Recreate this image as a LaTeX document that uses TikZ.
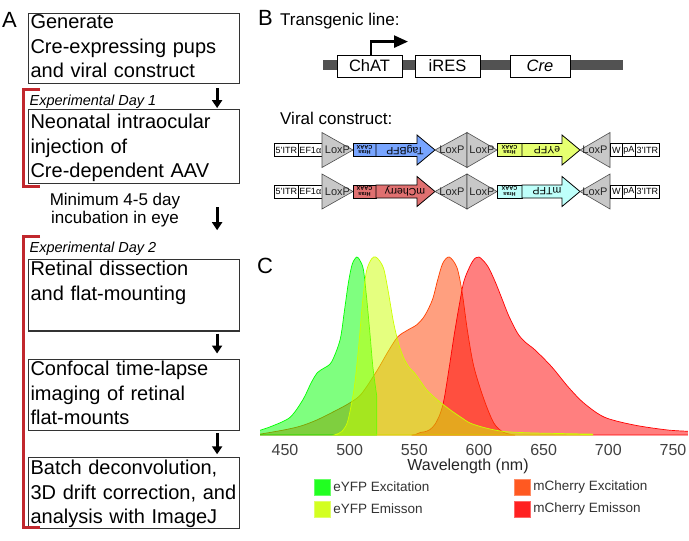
\documentclass[tikz,border=0pt]{standalone}
\usepackage{fontspec}
\setmainfont{Liberation Sans}
\usepackage{tikz}
\usetikzlibrary{arrows.meta,positioning}

\definecolor{brred}{RGB}{193,39,45}
\definecolor{tagblue}{RGB}{120,165,255}
\definecolor{eyfpyel}{RGB}{230,255,112}
\definecolor{chred}{RGB}{224,112,112}
\definecolor{mtfpcyan}{RGB}{190,255,250}
\definecolor{loxgray}{RGB}{200,200,200}
\definecolor{specgreen}{RGB}{0,255,0}
\definecolor{specyellow}{RGB}{204,255,0}
\definecolor{specorange}{RGB}{255,64,0}
\definecolor{specred}{RGB}{255,0,0}

\begin{document}
\begin{tikzpicture}[x=1pt, y=-1pt,
  every node/.style={inner sep=0pt},
  panel/.style={anchor=base west, font=\fontsize{22}{22}\selectfont},
  stepbox/.style={draw=black!80, line width=1.1pt, anchor=north west, text width=207pt, align=left,
    inner xsep=2pt, inner ysep=0pt, text height=16.5pt, text depth=55pt, font=\fontsize{20}{24.5}\selectfont},
  daylbl/.style={anchor=base west, font=\fontsize{14.5}{14.5}\selectfont\itshape},
  flowar/.style={-{Triangle[width=10pt,length=8pt]}, line width=3pt},
  daybr/.style={draw=brred, line width=3pt},
  gene/.style={draw, fill=white, line width=0.8pt, minimum height=22pt, font=\fontsize{16.5}{16.5}\selectfont},
  prom/.style={-{Triangle[width=12pt,length=14pt]}, line width=2.5pt},
  seg/.style={draw, fill=white, line width=0.7pt, anchor=west, minimum height=13pt, font=\fontsize{9}{9}\selectfont},
  lox/.style={fill=loxgray, draw=black!70, line width=0.6pt},
  loxtxt/.style={font=\fontsize{11}{11}\selectfont, text=black!85},
  caax/.style={draw, line width=0.8pt, minimum height=13pt, rotate=180, align=center, font=\fontsize{5.5}{5.5}\selectfont\bfseries},
  fp/.style={draw, line width=0.8pt},
  fptxt/.style={rotate=180, font=\fontsize{10.5}{10.5}\selectfont},
  spec/.style={fill=#1, draw=#1, fill opacity=0.5, line width=0.7pt},
  ticklbl/.style={font=\fontsize{16}{16}\selectfont, text=black!75},
  swatch/.style={fill=#1, draw=#1!60, fill opacity=0.87, minimum size=16pt},
  legtxt/.style={font=\fontsize{13.5}{13.5}\selectfont, text=black!80}
]
\useasboundingbox (0,0) rectangle (689,541);

% A: workflow
\node[panel] (lblA) at (2,27) {A};
\node[stepbox, text height=15pt] (gen) at (28,13) {Generate\\Cre-expressing pups\\and viral construct};
\node[stepbox, text height=19pt, below=25pt of gen] (inj) {Neonatal intraocular\\injection of\\Cre-dependent AAV};
\node[stepbox, below=74.7pt of inj] (dis) {Retinal dissection\\and flat-mounting};
\node[stepbox, text height=16.7pt, below=27pt of dis] (img) {Confocal time-lapse\\imaging of retinal\\flat-mounts};
\node[stepbox, text height=17pt, text depth=53.5pt, below=26pt of img] (dec) {Batch deconvolution,\\\mbox{3D drift correction, and}\\analysis with ImageJ};

\node[daylbl] (day1) at ([xshift=1.5pt,yshift=4pt]inj.north west) {Experimental Day 1};
\node[daylbl] (day2) at ([xshift=1.5pt,yshift=6.7pt]dis.north west) {Experimental Day 2};
\node[align=center, font=\fontsize{17}{18}\selectfont] (incub) at (115,210) {Minimum 4-5 day\\incubation in eye};

\draw[flowar] ([xshift=-23pt,yshift=-4pt]gen.south east) -- ([xshift=-23pt,yshift=1pt]inj.north east);
\draw[flowar] ([xshift=-23pt,yshift=-23pt]inj.south east) -- ([xshift=-23pt,yshift=28.7pt]dis.north east);
\draw[flowar] ([xshift=-23pt,yshift=-2pt]dis.south east) -- ([xshift=-23pt,yshift=5pt]img.north east);
\draw[flowar] ([xshift=-23pt,yshift=-1.5pt]img.south east) -- ([xshift=-23pt,yshift=3pt]dec.north east);

\draw[daybr] (40,89.5) -- (23.5,89.5) -- (23.5,186.5) -- (40,186.5);
\draw[daybr] (40,236.7) -- (23.5,236.7) -- (23.5,527.3) -- (40,527.3);

% B: constructs
\node[panel] (lblB) at (258,25) {B};
\node[anchor=base west, font=\fontsize{17}{17}\selectfont] (tgline) at (280,25) {Transgenic line:};
\draw[line width=10pt, black!68] (323,65) -- (623,65);
\node[gene, minimum width=65pt] (chat) at (369.5,66) {ChAT};
\node[gene, minimum width=65pt] (ires) at (447.5,66) {iRES};
\node[gene, minimum width=60pt] (cre) at (540,66) {\itshape Cre};
\draw[prom] ([xshift=1.5pt]chat.north) |- ([xshift=38.5pt,yshift=13pt]chat.north);

\node[anchor=base west, font=\fontsize{17}{17}\selectfont] (vclbl) at (280,124) {Viral construct:};

\foreach \r/\cy/\ca/\la/\cb/\lb in {1/150/tagblue/TagBFP/eyfpyel/eYFP, 2/191.5/chred/mCherry/mtfpcyan/mTFP}{
  \node[seg, minimum width=24pt] (itrf\r) at (274,\cy) {5'ITR};
  \node[seg, minimum width=24pt] (ef\r) at (298,\cy) {EF1α};
  \filldraw[lox] (322,\cy) ++(0,-17.5) -- ++(31,17.5) -- ++(-31,17.5) -- cycle;
  \node[loxtxt] (loxa\r) at (337.5,\cy) {LoxP};
  \node[caax, fill=\ca, minimum width=23pt] (caxa\r) at (364.5,\cy) {Hras\\CAAX};
  \filldraw[fp, fill=\ca] (376,\cy) ++(0,-6.5) -- ++(41,0) -- ++(0,-8.5) -- ++(18,15) -- ++(-18,15) -- ++(0,-8.5) -- ++(-41,0) -- cycle;
  \node[fptxt] (fpa\r) at (405,\cy) {\la};
  \filldraw[lox] (467,\cy) ++(0,-17.5) -- ++(-32,17.5) -- ++(32,17.5) -- cycle;
  \node[loxtxt] (loxb\r) at (452,\cy) {LoxP};
  \filldraw[lox] (467,\cy) ++(0,-17.5) -- ++(30,17.5) -- ++(-30,17.5) -- cycle;
  \node[loxtxt] (loxc\r) at (482,\cy) {LoxP};
  \node[caax, fill=\cb, minimum width=25pt] (caxb\r) at (509.5,\cy) {Hras\\CAAX};
  \filldraw[fp, fill=\cb] (522,\cy) ++(0,-6.5) -- ++(40,0) -- ++(0,-8.5) -- ++(18,15) -- ++(-18,15) -- ++(0,-8.5) -- ++(-40,0) -- cycle;
  \node[fptxt] (fpb\r) at (547,\cy) {\lb};
  \filldraw[lox] (610,\cy) ++(0,-17.5) -- ++(-30,17.5) -- ++(30,17.5) -- cycle;
  \node[loxtxt] (loxd\r) at (595,\cy) {LoxP};
  \node[seg, minimum width=12pt] (wpre\r) at (610,\cy) {W};
  \node[seg, minimum width=13pt] (pa\r) at (622,\cy) {pA};
  \node[seg, minimum width=24pt] (itrt\r) at (635,\cy) {3'ITR};
}

% C: spectra
\node[panel] (lblC) at (257,273) {C};
\begin{scope}[xshift=-297pt, yshift=-435pt, x=1.2933pt, y=178pt]
  \begin{scope}
    \clip (430.7,-0.005) rectangle (761.6,1.05);
    \filldraw[spec=specorange] (428,0) -- plot[smooth] coordinates {(430,0.004) (449,0.028) (462,0.05) (474.5,0.084) (490,0.14) (500,0.18) (509,0.23) (521,0.36) (529,0.46) (537,0.55) (545,0.59) (552,0.62) (558,0.67) (564,0.76) (568,0.87) (572,0.965) (577,1.0) (583,0.94) (587,0.80) (591,0.59) (596,0.385) (604,0.197) (611.6,0.066) (619,0.015) (628,0)} -- cycle;
    \filldraw[spec=specred] (548,0) -- plot[smooth] coordinates {(551,0.003) (555,0.015) (558,0.018) (562,0.03) (566,0.06) (570,0.12) (573,0.2) (577,0.38) (581,0.57) (585,0.74) (588.6,0.87) (595,0.975) (600,1.0) (606.6,0.95) (612,0.87) (617,0.78) (623,0.67) (630,0.57) (636,0.52) (643,0.48) (656,0.385) (669,0.27) (681,0.18) (697,0.10) (720,0.056) (746,0.028) (765,0.02)} -- (765,0) -- cycle;
    \filldraw[spec=specgreen] (428,0) -- plot[smooth] coordinates {(428,0.02) (440,0.05) (454,0.10) (464,0.20) (470,0.29) (475,0.35) (480,0.375) (486,0.41) (492.6,0.535) (496,0.70) (499,0.854) (502,0.96) (505.5,1.0) (508,0.98) (510.6,0.93) (513,0.78) (515.7,0.57) (518,0.38) (521,0.216)} -- (521,0) -- cycle;
    \filldraw[spec=specyellow] (488,0) -- plot[smooth] coordinates {(490,0.005) (494,0.02) (498,0.066) (501,0.16) (504,0.29) (507,0.5) (510,0.75) (513,0.92) (517,0.99) (520,1.0) (523,0.98) (526.5,0.93) (530,0.80) (534,0.63) (538,0.51) (542,0.43) (546,0.38) (550,0.35) (555,0.30) (560,0.25) (569,0.19) (578,0.14) (586,0.10) (593.5,0.066) (605,0.04) (619,0.02) (640,0.012) (665,0.008) (688,0.005)} -- (688,0) -- cycle;
  \end{scope}
  \foreach \w in {450,500,...,750}
    \node[ticklbl] (tk\w) at (\w,-0.084) {\w};
\end{scope}
\node[font=\fontsize{16}{16}\selectfont, text=black!85] (wl) at (468,466) {Wavelength (nm)};

\node[swatch=specgreen] (swa) at (322,487) {};
\node[legtxt, right=3pt of swa] (lga) {eYFP Excitation};
\node[swatch=specyellow] (swb) at (322,509) {};
\node[legtxt, right=3pt of swb] (lgb) {eYFP Emisson};
\node[swatch=specorange] (swc) at (522,487) {};
\node[legtxt, right=3pt of swc] (lgc) {mCherry Excitation};
\node[swatch=specred] (swd) at (522,509) {};
\node[legtxt, right=3pt of swd] (lgd) {mCherry Emisson};
\end{tikzpicture}
\end{document}
